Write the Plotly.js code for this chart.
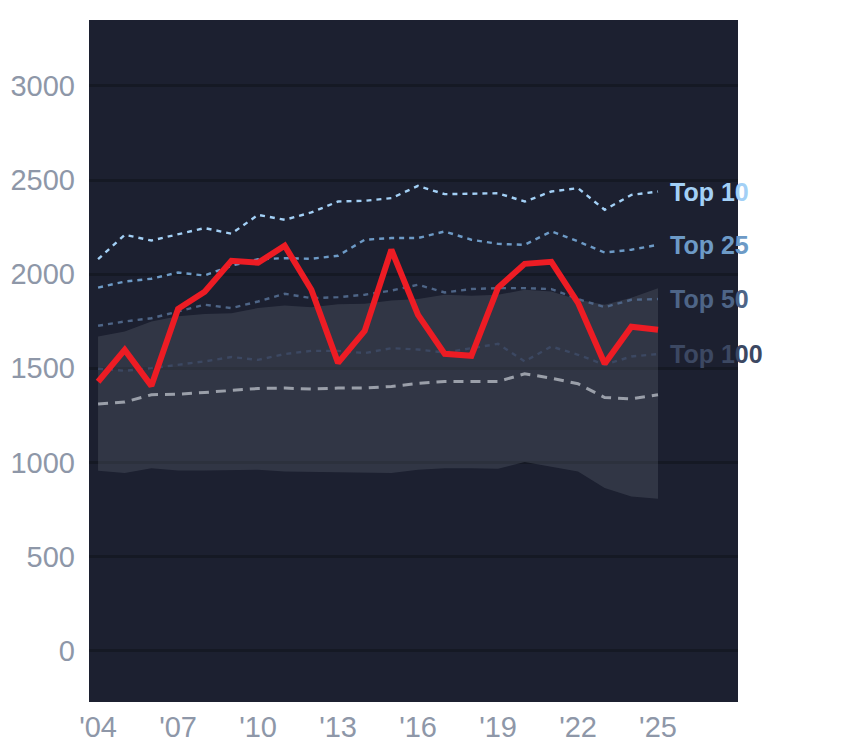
<!DOCTYPE html>
<html>
<head>
<meta charset="utf-8">
<script src="https://cdn.plot.ly/plotly-3.0.1.min.js"></script>
<style>html,body{margin:0;padding:0;background:#fff;}#chart{width:844px;height:748px;}</style>
</head>
<body>
<div id="chart"></div>
<script>
var years = [2004,2005,2006,2007,2008,2009,2010,2011,2012,2013,2014,2015,2016,2017,2018,2019,2020,2021,2022,2023,2024,2025];
var mainSeries = [1429,1598,1407,1816,1907,2071,2061,2151,1917,1529,1699,2130,1784,1577,1567,1928,2055,2066,1848,1524,1721,1705];
var top10 = [2080,2209,2179,2210,2245,2215,2315,2289,2328,2386,2390,2404,2469,2425,2427,2430,2386,2439,2457,2342,2421,2439];
var top25 = [1929,1961,1976,2009,1993,2045,2080,2085,2082,2098,2183,2192,2192,2227,2183,2161,2156,2227,2174,2115,2130,2156];
var top50 = [1726,1749,1766,1802,1838,1820,1855,1896,1873,1878,1891,1913,1944,1903,1921,1926,1926,1921,1868,1825,1864,1868];
var top100 = [1498,1487,1501,1519,1537,1560,1545,1576,1593,1593,1581,1607,1600,1584,1607,1630,1537,1616,1572,1519,1563,1576];
var median = [1310,1321,1360,1363,1372,1382,1393,1395,1390,1395,1395,1404,1420,1430,1430,1430,1471,1448,1418,1345,1338,1360];
var bandUpper = [1669,1696,1749,1776,1788,1793,1820,1834,1825,1841,1843,1860,1868,1891,1885,1891,1917,1908,1864,1838,1875,1926];
var bandLower = [956,944,970,958,958,961,961,952,949,949,944,944,961,970,970,967,1002,976,952,864,819,807];
var xTickVals = [2004,2007,2010,2013,2016,2019,2022,2025];
var xTickText = ["'04","'07","'10","'13","'16","'19","'22","'25"];
var yTickVals = [0,500,1000,1500,2000,2500,3000];
var tierNames = ["Top 10","Top 25","Top 50","Top 100"];
var tierColors = ["#a3d0f6","#6d9ac6","#4e6587","#3c4862"];

var tiers = [top10, top25, top50, top100];

var traces = [];
traces.push({x: years, y: bandLower, mode: 'lines', line: {width: 0}, hoverinfo: 'skip', showlegend: false});
traces.push({x: years, y: bandUpper, mode: 'lines', line: {width: 0}, fill: 'tonexty', fillcolor: 'rgba(100,105,120,0.3)', hoverinfo: 'skip', showlegend: false});
traces.push({x: years, y: median, mode: 'lines', line: {color: '#9a9fa9', width: 3, dash: '10px,7px'}, showlegend: false});
for (var i = tiers.length - 1; i >= 0; i--) {
  traces.push({x: years, y: tiers[i], mode: 'lines', line: {color: tierColors[i], width: 2.4, dash: '5px,5px'}, showlegend: false});
}
traces.push({x: years, y: mainSeries, mode: 'lines', line: {color: '#ed1c24', width: 6}, showlegend: false});

var annotations = tiers.map(function (s, i) {
  return {x: years[years.length - 1] + 0.38, y: s[s.length - 1], xref: 'x', yref: 'y', text: '<b>' + tierNames[i] + '</b>',
    showarrow: false, xanchor: 'left', yanchor: 'middle',
    font: {family: 'Liberation Sans, Arial, sans-serif', size: 25, color: tierColors[i]}};
});

var layout = {
  width: 844, height: 748,
  margin: {l: 89, r: 106, t: 20, b: 46, pad: 0},
  paper_bgcolor: '#ffffff',
  plot_bgcolor: '#1c2030',
  font: {family: 'Liberation Sans, Arial, sans-serif', color: '#8e97a8'},
  xaxis: {range: [2003.66, 2028], tickvals: xTickVals, ticktext: xTickText, showgrid: false, zeroline: false,
    showline: false, ticks: '', ticklabelstandoff: 5, tickfont: {size: 29, color: '#8e97a8'}, fixedrange: true},
  yaxis: {range: [-272, 3350], tickvals: yTickVals, showgrid: true, gridcolor: '#151924', gridwidth: 3,
    zeroline: true, zerolinecolor: '#151924', zerolinewidth: 3, showline: false, ticks: '',
    ticklabelstandoff: 13, tickfont: {size: 29, color: '#8e97a8'}, fixedrange: true},
  annotations: annotations,
  showlegend: false
};

Plotly.newPlot('chart', traces, layout, {displayModeBar: false, staticPlot: true});
</script>
</body>
</html>
